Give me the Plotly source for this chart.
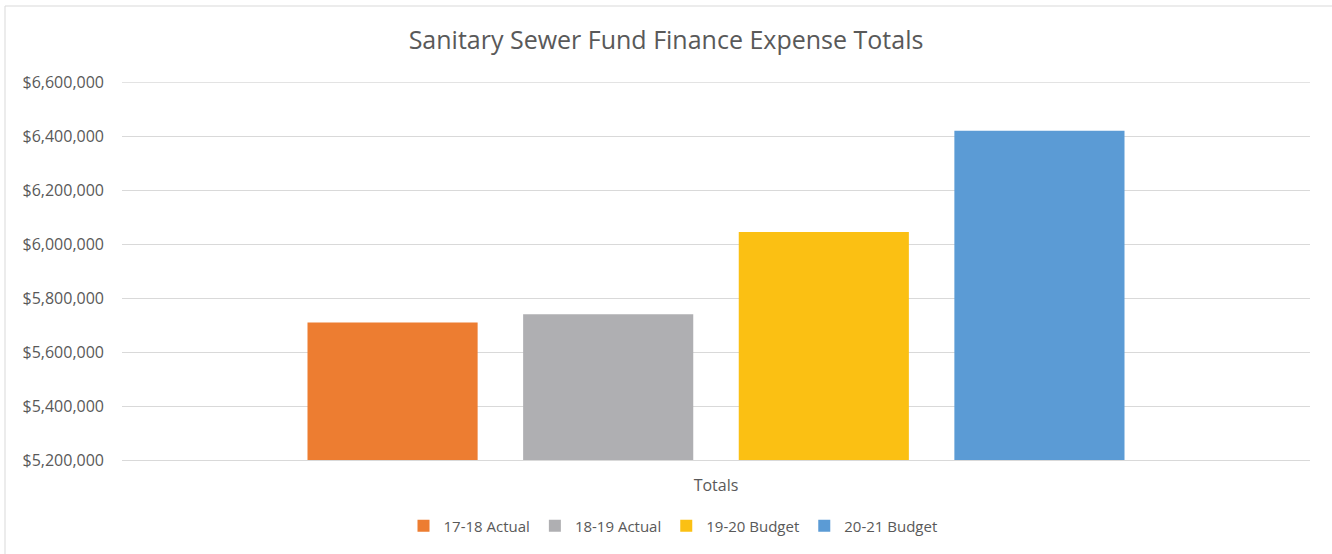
import plotly.graph_objects as go

categories = ["Totals"]
series_names = ["17-18 Actual", "18-19 Actual", "19-20 Budget", "20-21 Budget"]
series_values = [5710000, 5740000, 6045000, 6420000]
series_colors = ["#ED7D31", "#AFAFB2", "#FBC013", "#5B9BD5"]
tick_vals = [5200000, 5400000, 5600000, 5800000, 6000000, 6200000, 6400000, 6600000]

W, H = 1332, 554
L, R, T, B = 122, 22, 82, 94

fig = go.Figure()
for name, val, col in zip(series_names, series_values, series_colors):
    fig.add_trace(go.Bar(x=categories, y=[val], name=name, marker=dict(color=col, line=dict(width=0))))

pw = W - L - R
ph = H - T - B
font_c = "#595959"
fig.update_layout(
    width=W, height=H,
    margin=dict(l=L, r=R, t=T, b=B),
    paper_bgcolor="white", plot_bgcolor="white",
    barmode="group", bargap=0.274, bargroupgap=0.211,
    font=dict(family="Open Sans, sans-serif", color=font_c, size=16),
    title=dict(text="Sanitary Sewer Fund Finance Expense Totals", x=0.5, xanchor="center",
               y=1 - 40 / H, yanchor="middle", font=dict(size=25, color=font_c)),
    yaxis=dict(range=[5200000, 6600800], tickvals=tick_vals,
               ticktext=["${:,.0f}".format(v) for v in tick_vals],
               gridcolor="#D9D9D9", gridwidth=1, zeroline=False, showline=False,
               ticks="", ticklabelstandoff=17, tickfont=dict(size=16, color=font_c)),
    xaxis=dict(showline=True, linecolor="#D9D9D9", linewidth=1, ticks="",
               ticklabelstandoff=11, tickfont=dict(size=16, color=font_c)),
    legend=dict(orientation="h", x=(673 - L) / pw, xanchor="center", y=-(526 - 460) / ph, yanchor="middle",
                font=dict(size=15, color=font_c), traceorder="normal", itemwidth=30),
    showlegend=True,
)

# top gridline at the axis maximum
fig.add_shape(type="line", xref="paper", yref="y", x0=0, x1=1,
              y0=tick_vals[-1], y1=tick_vals[-1], line=dict(color="#D9D9D9", width=1), layer="below")
# chart border
fig.add_shape(type="rect", xref="paper", yref="paper",
              x0=(5 - L) / pw, x1=(W + 5 - L) / pw,
              y0=-(H + 5 - T - ph) / ph, y1=1 + (T - 6) / ph,
              line=dict(color="#D9D9D9", width=1), fillcolor="rgba(0,0,0,0)", layer="below")

fig.write_html("out.html", config={"displayModeBar": False},
               post_script="document.body.style.margin='0';")
